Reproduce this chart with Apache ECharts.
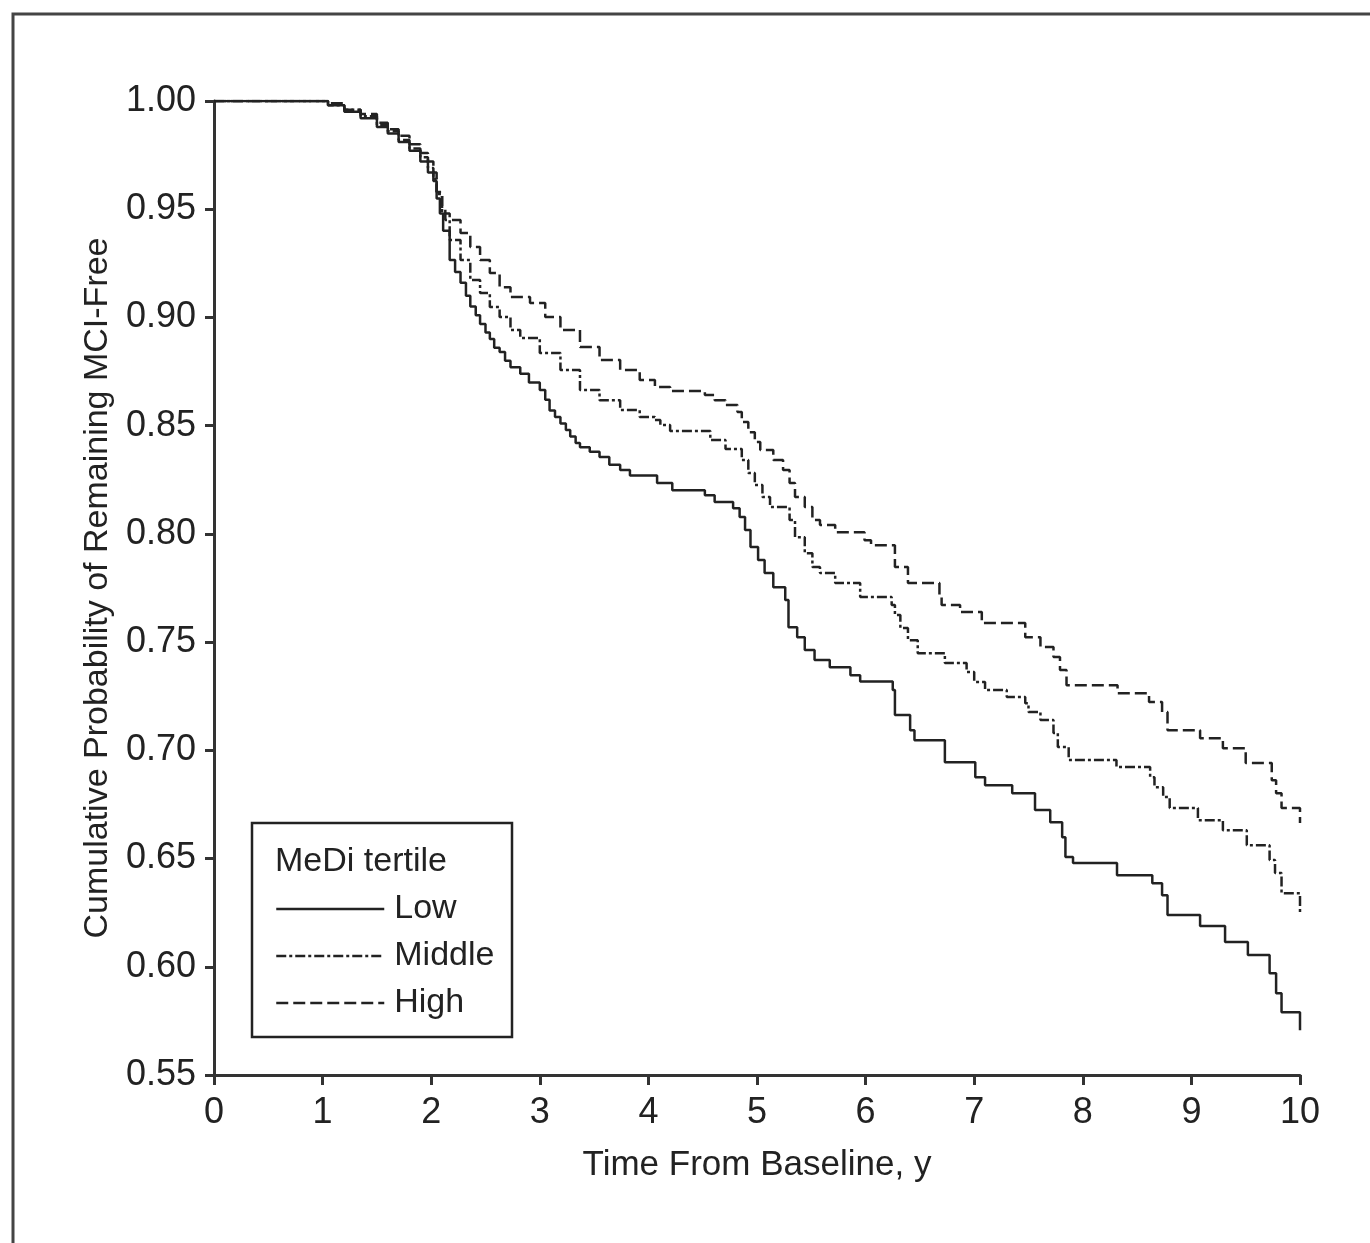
<!DOCTYPE html>
<html><head><meta charset="utf-8">
<script src="https://cdn.jsdelivr.net/npm/echarts@6/dist/echarts.min.js"></script>
<style>html,body{margin:0;padding:0;background:#fff}#c{width:1370px;height:1243px}</style>
</head><body><div id="c"></div>
<script>
// Kaplan-Meier step curves: [time (y), cumulative probability]
const lowCurve = [[0,1.0],[1.0,1.0],[1.05,0.998],[1.2,0.995],[1.35,0.992],[1.5,0.988],[1.6,0.985],[1.7,0.981],[1.8,0.977],[1.9,0.972],[1.97,0.967],[2.02,0.963],[2.05,0.955],[2.08,0.948],[2.11,0.940],[2.17,0.9265],[2.22,0.921],[2.27,0.916],[2.32,0.910],[2.36,0.905],[2.41,0.901],[2.45,0.897],[2.5,0.893],[2.54,0.890],[2.58,0.886],[2.63,0.884],[2.68,0.880],[2.73,0.877],[2.82,0.874],[2.9,0.870],[3.0,0.8665],[3.05,0.862],[3.09,0.857],[3.14,0.854],[3.19,0.851],[3.24,0.848],[3.28,0.845],[3.33,0.842],[3.37,0.840],[3.46,0.838],[3.55,0.8355],[3.64,0.832],[3.74,0.8295],[3.83,0.827],[4.08,0.8235],[4.22,0.8202],[4.52,0.8179],[4.61,0.8147],[4.78,0.8119],[4.84,0.8078],[4.89,0.8018],[4.94,0.7939],[5.01,0.7879],[5.07,0.7819],[5.15,0.7754],[5.26,0.7694],[5.29,0.7569],[5.37,0.7523],[5.44,0.7463],[5.53,0.7417],[5.67,0.7384],[5.86,0.7347],[5.95,0.7318],[6.25,0.7279],[6.27,0.7163],[6.41,0.7093],[6.45,0.7047],[6.73,0.6945],[7.01,0.6876],[7.10,0.6839],[7.35,0.6802],[7.56,0.6724],[7.70,0.6668],[7.81,0.6599],[7.84,0.6507],[7.91,0.6479],[8.315,0.6423],[8.64,0.6386],[8.73,0.6331],[8.78,0.6239],[9.08,0.6188],[9.31,0.6114],[9.52,0.6054],[9.72,0.5970],[9.78,0.5878],[9.83,0.5790],[10,0.5707]];
const middleCurve = [[0,1.0],[1.0,1.0],[1.05,0.998],[1.2,0.996],[1.35,0.993],[1.5,0.989],[1.6,0.986],[1.7,0.982],[1.8,0.978],[1.9,0.974],[1.97,0.969],[2.02,0.964],[2.05,0.957],[2.1,0.948],[2.17,0.9358],[2.27,0.9265],[2.36,0.9173],[2.45,0.9113],[2.54,0.9048],[2.63,0.9002],[2.73,0.8942],[2.82,0.8905],[3.0,0.8836],[3.19,0.8757],[3.37,0.8665],[3.55,0.8618],[3.74,0.8572],[3.92,0.854],[4.06,0.8526],[4.11,0.8503],[4.2,0.8475],[4.57,0.8434],[4.71,0.8392],[4.86,0.8341],[4.92,0.8281],[4.98,0.8226],[5.05,0.817],[5.12,0.8124],[5.3,0.8064],[5.35,0.7985],[5.44,0.7911],[5.51,0.7847],[5.58,0.7819],[5.72,0.7773],[5.95,0.7708],[6.24,0.7671],[6.27,0.7625],[6.32,0.7565],[6.39,0.7509],[6.48,0.7449],[6.73,0.7403],[6.93,0.7362],[7.0,0.7316],[7.1,0.7279],[7.3,0.7246],[7.47,0.7218],[7.5,0.7177],[7.61,0.714],[7.73,0.708],[7.77,0.7015],[7.87,0.6955],[8.31,0.6923],[8.62,0.6876],[8.66,0.683],[8.74,0.6784],[8.8,0.6733],[9.06,0.6677],[9.29,0.6631],[9.51,0.6562],[9.72,0.6493],[9.77,0.6433],[9.83,0.634],[10,0.6252]];
const highCurve = [[0,1.0],[1.0,1.0],[1.05,0.999],[1.2,0.996],[1.35,0.994],[1.5,0.990],[1.6,0.987],[1.7,0.984],[1.8,0.980],[1.9,0.976],[1.97,0.972],[2.02,0.967],[2.05,0.958],[2.1,0.950],[2.13,0.945],[2.27,0.939],[2.36,0.9325],[2.45,0.9265],[2.54,0.9205],[2.63,0.914],[2.73,0.9094],[2.91,0.9067],[3.05,0.9002],[3.19,0.8942],[3.37,0.8863],[3.55,0.8803],[3.74,0.8757],[3.92,0.8711],[4.06,0.8679],[4.2,0.866],[4.52,0.8642],[4.61,0.8618],[4.71,0.8595],[4.82,0.8563],[4.86,0.8517],[4.92,0.847],[4.98,0.8424],[5.03,0.8387],[5.15,0.8341],[5.24,0.8295],[5.30,0.8235],[5.35,0.817],[5.44,0.8124],[5.51,0.8064],[5.58,0.8041],[5.72,0.8008],[5.99,0.7971],[6.05,0.7948],[6.27,0.7847],[6.39,0.7773],[6.68,0.7708],[6.70,0.7671],[6.87,0.7639],[7.07,0.7588],[7.47,0.7523],[7.61,0.7477],[7.73,0.7431],[7.79,0.7371],[7.85,0.7301],[8.32,0.7264],[8.61,0.7223],[8.73,0.7177],[8.78,0.7093],[9.08,0.7056],[9.29,0.701],[9.5,0.6941],[9.74,0.6862],[9.78,0.6802],[9.83,0.6733],[10,0.6664]];

const seriesNames = ['Low','Middle','High'];
const legendTitle = 'MeDi tertile';
const xTitle = 'Time From Baseline, y';
const yTitle = 'Cumulative Probability of Remaining MCI-Free';

const FONT = '"Liberation Sans", Arial, sans-serif';
const INK = '#222';

const chart = echarts.init(document.getElementById('c'), null, {renderer:'canvas'});
const mk = (name, data, type) => ({
  name, type:'line', data, step:'end', symbol:'none', animation:false,
  lineStyle:{color:INK, width:2.5, type:type},
  itemStyle:{color:INK}
});
chart.setOption({
  backgroundColor:'#fff',
  animation:false,
  grid:{left:214, right:70, top:101, bottom:168, containLabel:false},
  xAxis:{
    type:'value', min:0, max:10, interval:1,
    name:xTitle, nameLocation:'middle', nameGap:73,
    nameTextStyle:{fontFamily:FONT, fontSize:35, color:INK},
    axisLine:{show:true, onZero:false, lineStyle:{color:'#333', width:3}},
    axisTick:{show:true, length:10, lineStyle:{color:'#333', width:3}},
    axisLabel:{fontFamily:FONT, fontSize:36, color:INK, margin:20},
    splitLine:{show:false}
  },
  yAxis:{
    type:'value', min:0.55, max:1.0, interval:0.05,
    name:yTitle, nameLocation:'middle', nameGap:96, nameRotate:90,
    nameTextStyle:{fontFamily:FONT, fontSize:34, color:INK},
    axisLine:{show:true, onZero:false, lineStyle:{color:'#333', width:3}},
    axisTick:{show:true, length:9, lineStyle:{color:'#333', width:3}},
    axisLabel:{fontFamily:FONT, fontSize:36, color:INK, margin:18, formatter:v=>v.toFixed(2)},
    splitLine:{show:false}
  },
  legend:{
    orient:'vertical', left:275, top:892, padding:0,
    itemWidth:108, itemHeight:22, itemGap:13,
    data:seriesNames,
    itemStyle:{opacity:0},
    lineStyle:{width:2.5},
    textStyle:{fontFamily:FONT, fontSize:34, color:INK, padding:[0,0,0,5]}
  },
  graphic:[
    {type:'rect', shape:{x:13, y:14, width:1450, height:1350}, style:{fill:'none', stroke:'#444', lineWidth:3}, silent:true},
    {type:'rect', shape:{x:252, y:823, width:260, height:214}, style:{fill:'none', stroke:INK, lineWidth:2.5}, silent:true, z:10},
    {type:'text', left:275, top:845, style:{text:legendTitle, fontFamily:FONT, fontSize:34, fill:INK}, silent:true, z:10}
  ],
  series:[
    mk(seriesNames[0], lowCurve, 'solid'),
    mk(seriesNames[1], middleCurve, [10,3,3,3]),
    mk(seriesNames[2], highCurve, [12,5])
  ]
});
</script></body></html>
